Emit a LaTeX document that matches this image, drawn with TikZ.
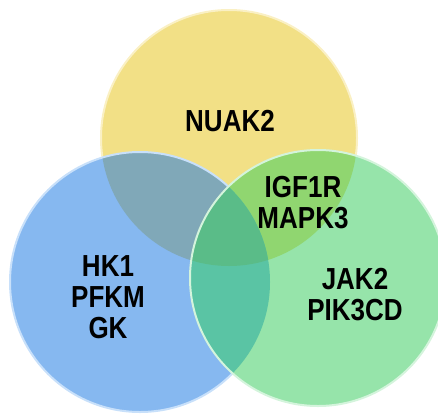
\documentclass[tikz,border=0pt]{standalone}
\usepackage{fontspec}
\setmainfont{Liberation Sans}
\definecolor{yel}{HTML}{F2E086}
\definecolor{blu}{HTML}{86B8F0}
\definecolor{grn}{HTML}{96E4AA}
\definecolor{yelblu}{HTML}{80A8B8}
\definecolor{yelgrn}{HTML}{90D670}
\definecolor{blugrn}{HTML}{5AC4A4}
\definecolor{allthree}{HTML}{5ABC88}
\definecolor{yelrim}{HTML}{FAF0C4}
\definecolor{blurim}{HTML}{C8E0FA}
\definecolor{grnrim}{HTML}{D4F4DC}
\begin{document}
\begin{tikzpicture}[x=1pt,y=-1pt,
        gene/.style={font=\fontsize{26}{26.5}\selectfont\bfseries,align=center,yscale=1.17,inner sep=0pt},
        rim/.style={line width=2pt}]
        \useasboundingbox (0,0) rectangle (438,417);

        % yellow set
        \fill[yel] (229,138) circle[radius=128];
        \draw[rim,yelrim] (229,138) circle[radius=128];

        % blue set
        \fill[blu] (140,282) circle[radius=130];
        \begin{scope}
            \clip (229,138) circle[radius=128];
            \fill[yelblu] (140,282) circle[radius=130];
        \end{scope}
        \draw[rim,blurim] (140,282) circle[radius=130];

        % green set
        \fill[grn] (318,278) circle[radius=128];
        \begin{scope}
            \clip (318,278) circle[radius=128];
            \fill[yelgrn] (229,138) circle[radius=128];
            \fill[blugrn] (140,282) circle[radius=130];
            \clip (229,138) circle[radius=128];
            \fill[allthree] (140,282) circle[radius=130];
        \end{scope}
        \draw[rim,grnrim] (318,278) circle[radius=128];

        \node[gene] (NU) at (230,121) {NUAK2};
        \node[gene] (IG) at (303,203) {IGF1R\\MAPK3};
        \node[gene] (HK) at (108,297) {HK1\\PFKM\\GK};
        \node[gene] (JA) at (355,295) {JAK2\\PIK3CD};
\end{tikzpicture}
\end{document}
